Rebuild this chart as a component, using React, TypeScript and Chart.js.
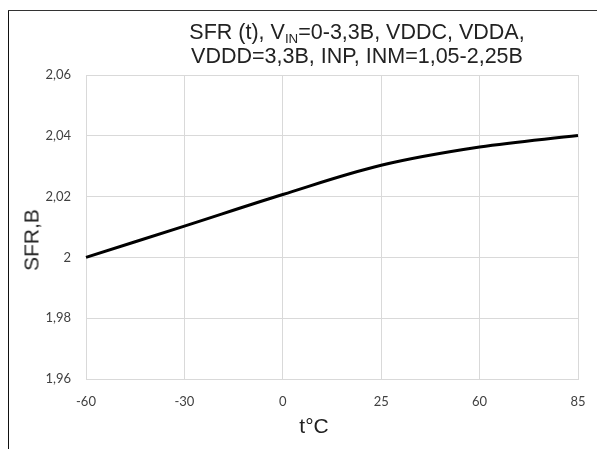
import React, { useEffect, useRef } from "react";
import { Chart, registerables } from "chart.js";

Chart.register(...registerables);

// ---- data ----
const categories: string[] = ["-60", "-30", "0", "25", "60", "85"];
const sfrValues: number[] = [2.0, 2.0103, 2.0207, 2.0303, 2.0363, 2.0401];
const yMin = 1.96;
const yMax = 2.06;
const yStep = 0.02;
const titleLine1Pre = "SFR (t), V";
const titleLine1Sub = "IN";
const titleLine1Post = "=0-3,3B, VDDC, VDDA,";
const titleLine2 = "VDDD=3,3B, INP, INM=1,05-2,25B";
const xAxisTitle = "t°C";
const yAxisTitle = "SFR,B";

const W = 605;
const H = 457;
const PLOT_LEFT = 86;
const PLOT_RIGHT = 578;
const PLOT_TOP = 75;
const PLOT_BOTTOM = 379;

const fmt = (v: number) => String(Math.round(v * 100) / 100).replace(".", ",");

export default function App() {
  const canvasRef = useRef<HTMLCanvasElement | null>(null);

  useEffect(() => {
    const canvas = canvasRef.current;
    if (!canvas) return;
    const chart = new Chart(canvas, {
      type: "line",
      data: {
        labels: categories,
        datasets: [
          {
            data: sfrValues,
            borderColor: "#000000",
            borderWidth: 3,
            pointRadius: 0,
            tension: 0.35,
            fill: false,
          },
        ],
      },
      options: {
        animation: false,
        responsive: false,
        maintainAspectRatio: false,
        layout: {
          padding: { top: PLOT_TOP, right: W - PLOT_RIGHT, left: 0, bottom: 0 },
        },
        plugins: {
          legend: { display: false },
          title: { display: false },
          tooltip: { enabled: false },
        },
        scales: {
          x: {
            type: "category",
            offset: false,
            grid: { color: "#d9d9d9", lineWidth: 1, drawTicks: false },
            border: { display: true, color: "#d9d9d9", width: 1 },
            ticks: {
              color: "#404040",
              font: { family: "Lato", size: 13 },
              padding: 15,
              maxRotation: 0,
              autoSkip: false,
            },
            afterFit: (scale: any) => {
              scale.height = H - PLOT_BOTTOM;
            },
          },
          y: {
            type: "linear",
            min: yMin,
            max: yMax,
            grid: { color: "#d9d9d9", lineWidth: 1, drawTicks: false },
            border: { display: true, color: "#d9d9d9", width: 1 },
            ticks: {
              stepSize: yStep,
              color: "#404040",
              font: { family: "Lato", size: 13 },
              padding: 15,
              callback: (v: any) => fmt(Number(v)),
            },
            afterFit: (scale: any) => {
              scale.width = PLOT_LEFT;
            },
          },
        },
      },
    });
    return () => chart.destroy();
  }, []);

  const textFont = "'Liberation Sans', Arial, sans-serif";

  return (
    <div
      style={{
        position: "relative",
        width: W,
        height: H,
        margin: -8,
        overflow: "hidden",
        background: "#ffffff",
      }}
    >
      <canvas
        ref={canvasRef}
        width={W}
        height={H}
        style={{ position: "absolute", left: 0, top: 0, width: W, height: H }}
      />
      <div
        style={{
          position: "absolute",
          left: 7,
          top: 10,
          width: 2,
          height: H - 10,
          background: "#111",
        }}
      />
      <div
        style={{
          position: "absolute",
          left: 7,
          top: 10,
          width: W - 7,
          height: 1,
          background: "#333",
        }}
      />
      <div
        style={{
          position: "absolute",
          left: 157,
          width: 400,
          top: 20,
          textAlign: "center",
          fontFamily: textFont,
          fontSize: 21.5,
          lineHeight: "24px",
          color: "#222",
          whiteSpace: "nowrap",
        }}
      >
        <div>
          {titleLine1Pre}
          <span
            style={{
              fontSize: "0.62em",
              position: "relative",
              top: "0.3em",
              lineHeight: 0,
            }}
          >
            {titleLine1Sub}
          </span>
          {titleLine1Post}
        </div>
        <div>{titleLine2}</div>
      </div>
      <div
        style={{
          position: "absolute",
          left: 214,
          width: 200,
          top: 412.5,
          textAlign: "center",
          fontFamily: textFont,
          fontSize: 21,
          lineHeight: "25px",
          color: "#222",
          whiteSpace: "nowrap",
        }}
      >
        {xAxisTitle}
      </div>
      <div
        style={{
          position: "absolute",
          left: 31,
          top: 240,
          transform: "translate(-50%, -50%) rotate(-90deg)",
          fontFamily: textFont,
          fontSize: 21,
          lineHeight: "25px",
          color: "#222",
          whiteSpace: "nowrap",
        }}
      >
        {yAxisTitle}
      </div>
    </div>
  );
}
